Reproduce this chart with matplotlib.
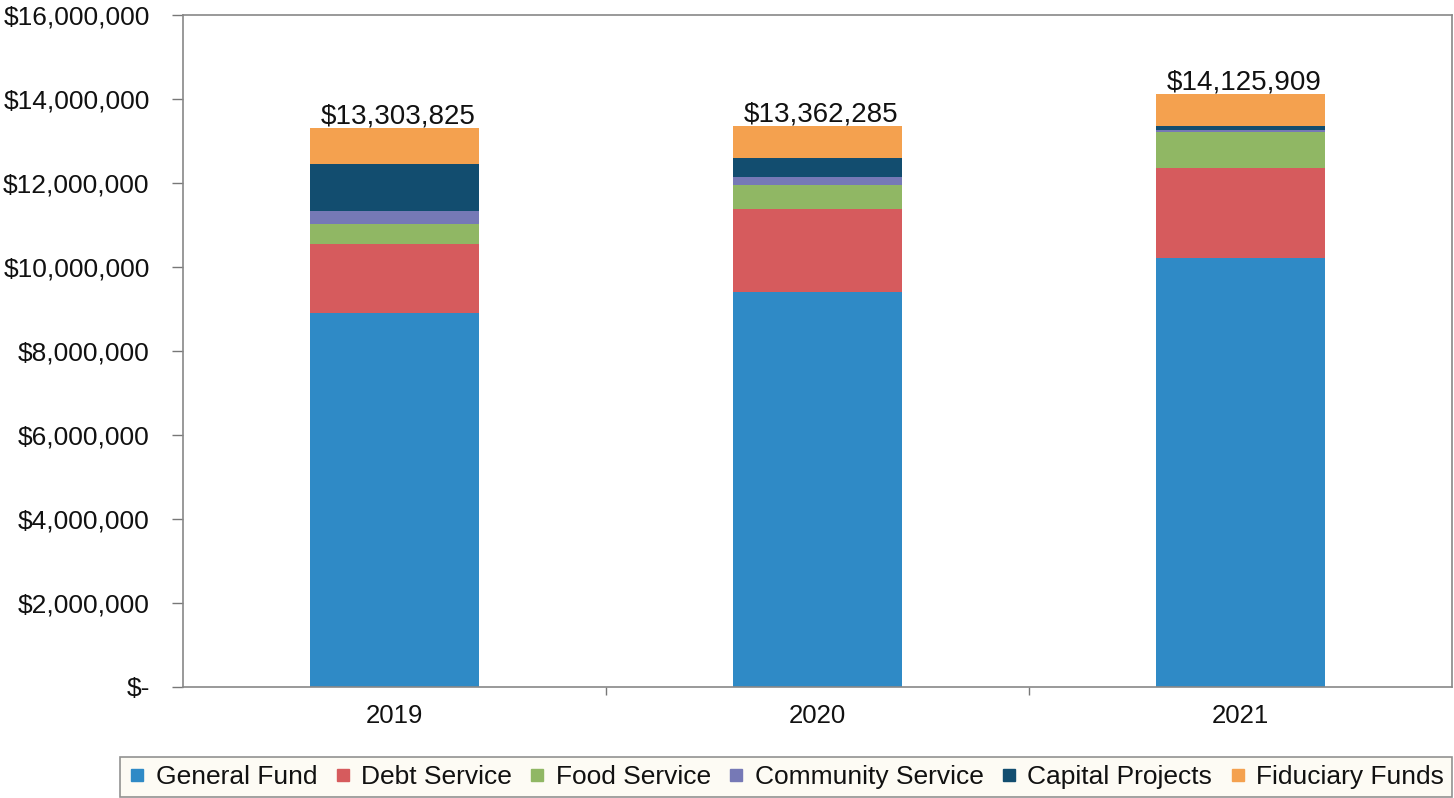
import matplotlib
matplotlib.use("Agg")
import matplotlib.pyplot as plt
from matplotlib.ticker import FuncFormatter, FixedLocator
from matplotlib.lines import Line2D

plt.rcParams['font.family'] = ['Liberation Sans', 'DejaVu Sans']

years = ["2019", "2020", "2021"]
general_fund = [8905000, 9405000, 10214000]
debt_service = [1643000, 1976000, 2143000]
food_service = [476000, 571000, 855000]
community_service = [309000, 191000, 50000]
capital_projects = [1119000, 452000, 95000]
totals = [13303825, 13362285, 14125909]

series_names = ["General Fund", "Debt Service", "Food Service",
                "Community Service", "Capital Projects", "Fiduciary Funds"]
colors = ["#2F8AC6", "#D65B5D", "#90B764", "#7679B6", "#124D6F", "#F4A14F"]

# Fiduciary funds fill the remainder up to each year's stated total
known = [general_fund, debt_service, food_service, community_service, capital_projects]
fiduciary_funds = [t - sum(s[i] for s in known) for i, t in enumerate(totals)]
series = known + [fiduciary_funds]

fig = plt.figure(figsize=(14.54, 7.98), dpi=100)
ax = fig.add_axes([183 / 1454, 1 - 687 / 798, (1452 - 183) / 1454, (687 - 15) / 798])

x = list(range(len(years)))
bottom = [0] * len(years)
for name, vals, col in zip(series_names, series, colors):
    ax.bar(x, vals, width=0.40, bottom=bottom, color=col, label=name, zorder=2)
    bottom = [b + v for b, v in zip(bottom, vals)]

for xi, t in zip(x, totals):
    ax.annotate(f"${t:,.0f}", (xi, t), xytext=(2.5, -1), textcoords="offset points",
                ha="center", va="bottom", fontsize=20, color="#111111")

ax.set_xlim(-0.5, 2.5)
ax.set_ylim(0, 16000000)
ax.yaxis.set_major_locator(FixedLocator(range(0, 16000001, 2000000)))
ax.yaxis.set_major_formatter(FuncFormatter(lambda v, p: "$-" if v == 0 else f"${v:,.0f}"))
ax.set_xticks(x)
ax.set_xticklabels(years)
ax.set_xticks([0.5, 1.5], minor=True)
ax.tick_params(axis="x", which="major", length=0, labelsize=18.5, pad=12, colors="#111111")
ax.tick_params(axis="x", which="minor", length=6, width=1, color="#777777", direction="out")
ax.tick_params(axis="y", length=8, width=1, color="#777777", labelsize=19, pad=16,
               labelcolor="#111111")

for side in ["top", "right", "left", "bottom"]:
    ax.spines[side].set_color("#888888")
    ax.spines[side].set_linewidth(1.2)

handles = [Line2D([0], [0], marker="s", linestyle="none", markersize=9,
                  markerfacecolor=c, markeredgecolor=c) for c in colors]
leg = fig.legend(handles, series_names, loc="lower left",
                 bbox_to_anchor=(120 / 1454, 1 / 798, (1452 - 120) / 1454, 50 / 798),
                 mode="expand", ncol=6, fontsize=19, frameon=True, fancybox=False,
                 handlelength=0.7, handletextpad=0.35, columnspacing=0.5,
                 borderpad=0.3, borderaxespad=0, labelcolor="#111111")
leg.get_frame().set_edgecolor("#777777")
leg.get_frame().set_facecolor("#FDFBF2")
leg.get_frame().set_linewidth(1.2)

fig.savefig("out.png", dpi=100)
